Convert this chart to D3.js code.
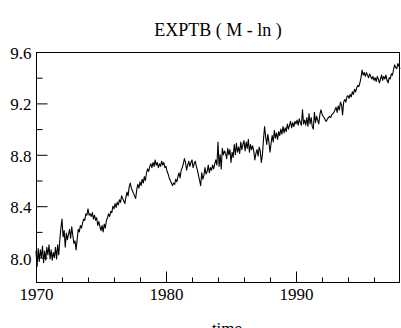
<!DOCTYPE html>
<html>
<head>
<meta charset="utf-8">
<script src="https://cdn.jsdelivr.net/npm/d3@7"></script>
<style>
  html, body { margin: 0; padding: 0; background: #fff; }
  svg { display: block; }
  text { font-family: "Liberation Serif", "Times New Roman", serif; fill: #000; }
</style>
</head>
<body>
<svg id="chart" width="401" height="328"></svg>
<script>
// ---- data (monthly, starting Jan 1970) ----
const startYear = 1970;
const chartTitle = "EXPTB ( M - ln )";
const xLabel = "time";
const values = [
  // 1970
  8.05, 7.93, 8.07, 7.97, 8.06, 8.00, 8.09, 7.96, 8.05, 7.98, 8.08, 8.02,
  // 1971
  8.10, 7.99, 8.06, 7.98, 8.04, 8.00, 8.08, 7.99, 8.10, 8.02, 8.14, 8.23,
  // 1972
  8.30, 8.16, 8.21, 8.08, 8.19, 8.14, 8.18, 8.22, 8.15, 8.24, 8.17, 8.11,
  // 1973
  8.13, 8.06, 8.14, 8.22, 8.20, 8.25, 8.23, 8.27, 8.30, 8.29, 8.34, 8.33,
  // 1974
  8.38, 8.33, 8.34, 8.32, 8.35, 8.30, 8.33, 8.29, 8.31, 8.25, 8.28, 8.24,
  // 1975
  8.21, 8.25, 8.20, 8.26, 8.23, 8.29, 8.31, 8.34, 8.32, 8.36, 8.35, 8.40,
  // 1976
  8.38, 8.42, 8.39, 8.43, 8.41, 8.45, 8.43, 8.48, 8.46, 8.44, 8.42, 8.47,
  // 1977
  8.51, 8.48, 8.55, 8.58, 8.54, 8.52, 8.50, 8.48, 8.46, 8.53, 8.57, 8.54,
  // 1978
  8.59, 8.56, 8.61, 8.58, 8.63, 8.60, 8.66, 8.69, 8.67, 8.71, 8.73, 8.70,
  // 1979
  8.74, 8.71, 8.76, 8.72, 8.74, 8.70, 8.73, 8.71, 8.75, 8.72, 8.74, 8.70,
  // 1980
  8.71, 8.67, 8.65, 8.62, 8.60, 8.58, 8.56, 8.58, 8.57, 8.61, 8.59, 8.63,
  // 1981
  8.66, 8.62, 8.68, 8.70, 8.73, 8.77, 8.74, 8.68, 8.72, 8.75, 8.71, 8.74,
  // 1982
  8.76, 8.70, 8.73, 8.75, 8.71, 8.68, 8.64, 8.60, 8.56, 8.66, 8.61, 8.64,
  // 1983
  8.70, 8.65, 8.67, 8.72, 8.66, 8.70, 8.68, 8.72, 8.69, 8.73, 8.76, 8.72,
  // 1984
  8.90, 8.71, 8.80, 8.69, 8.85, 8.80, 8.83, 8.81, 8.77, 8.85, 8.80, 8.84,
  // 1985
  8.74, 8.82, 8.78, 8.88, 8.80, 8.89, 8.82, 8.86, 8.81, 8.90, 8.84, 8.88,
  // 1986
  8.91, 8.83, 8.90, 8.85, 8.92, 8.82, 8.88, 8.84, 8.87, 8.83, 8.76, 8.81,
  // 1987
  8.84, 8.79, 8.86, 8.83, 8.74, 8.80, 8.92, 9.02, 8.94, 8.88, 8.96, 8.90,
  // 1988
  8.82, 8.89, 8.95, 8.90, 8.99, 8.93, 8.97, 8.92, 8.98, 8.95, 9.00, 8.96,
  // 1989
  9.02, 8.97, 9.01, 8.98, 9.04, 9.00, 9.03, 9.06, 9.01, 9.05, 9.02, 9.06,
  // 1990
  9.04, 9.07, 9.03, 9.08, 9.05, 9.03, 9.15, 9.04, 9.07, 9.03, 9.09, 9.02,
  // 1991
  9.12, 9.04, 9.09, 9.02, 9.00, 9.13, 9.05, 9.10, 9.07, 9.04, 9.11, 9.15,
  // 1992
  9.12, 9.10, 9.09, 9.07, 9.06, 9.08, 9.09, 9.10, 9.09, 9.11, 9.12, 9.13,
  // 1993
  9.15, 9.17, 9.13, 9.18, 9.15, 9.21, 9.19, 9.11, 9.21, 9.23, 9.21, 9.25,
  // 1994
  9.26, 9.24, 9.27, 9.25, 9.29, 9.27, 9.31, 9.29, 9.32, 9.34, 9.33, 9.36,
  // 1995
  9.40, 9.46, 9.42, 9.44, 9.41, 9.44, 9.42, 9.40, 9.43, 9.41, 9.39, 9.41,
  // 1996
  9.38, 9.40, 9.37, 9.41, 9.39, 9.36, 9.39, 9.42, 9.38, 9.41, 9.39, 9.42,
  // 1997
  9.38, 9.36, 9.40, 9.39, 9.43, 9.42, 9.46, 9.50, 9.48, 9.47, 9.51, 9.49,
  // 1998
  9.47
];
const xMajorTicks = [1970, 1980, 1990];
const xMinorTicks = [1972, 1974, 1976, 1978, 1982, 1984, 1986, 1988, 1992, 1994, 1996];
const yMajorTicks = [8.0, 8.4, 8.8, 9.2, 9.6];
const yMinorTicks = [8.2, 8.6, 9.0, 9.4];

// ---- layout ----
const svg = d3.select("#chart");
const mLeft = 36, mRight = 400, mTop = 52, mBottom = 282;

const x = d3.scaleLinear().domain([1970, 1998]).range([mLeft, mRight]);
const y = d3.scaleLinear().domain([7.81, 9.6]).range([mBottom, mTop]);

const data = values.map((v, i) => ({ t: startYear + i / 12, v }));

// line
svg.append("path")
  .datum(data)
  .attr("fill", "none")
  .attr("stroke", "#000")
  .attr("stroke-width", 1.1)
  .attr("stroke-linejoin", "round")
  .attr("d", d3.line().x(d => x(d.t)).y(d => y(d.v)));

// frame
svg.append("rect")
  .attr("x", mLeft + 0.5).attr("y", mTop + 0.5)
  .attr("width", mRight - mLeft - 1).attr("height", mBottom - mTop)
  .attr("fill", "none").attr("stroke", "#000").attr("stroke-width", 1);

// x axis (ticks inward)
const xAxisMajor = d3.axisBottom(x).tickValues(xMajorTicks).tickSize(-11).tickFormat(d3.format("d"));
const xAxisMinor = d3.axisBottom(x).tickValues(xMinorTicks).tickSize(-5).tickFormat("");
const gxMinor = svg.append("g").attr("transform", `translate(0,${mBottom + 0.5})`).call(xAxisMinor);
const gxMajor = svg.append("g").attr("transform", `translate(0,${mBottom + 0.5})`).call(xAxisMajor);
[gxMinor, gxMajor].forEach(g => {
  g.attr("font-family", null);
  g.select(".domain").remove();
  g.selectAll("line").attr("stroke", "#000");
  g.selectAll("text").style("font-family", "'Liberation Serif', serif").style("font-size", "17px").attr("fill", "#000");
});
gxMajor.selectAll("text").attr("y", 5).attr("dy", "0.71em");

// y axis (ticks inward)
const yAxisMajor = d3.axisLeft(y).tickValues(yMajorTicks).tickSize(-11).tickFormat(d3.format(".1f"));
const yAxisMinor = d3.axisLeft(y).tickValues(yMinorTicks).tickSize(-6).tickFormat("");
const gyMinor = svg.append("g").attr("transform", `translate(${mLeft + 0.5},0)`).call(yAxisMinor);
const gyMajor = svg.append("g").attr("transform", `translate(${mLeft + 0.5},0)`).call(yAxisMajor);
[gyMinor, gyMajor].forEach(g => {
  g.attr("font-family", null);
  g.select(".domain").remove();
  g.selectAll("line").attr("stroke", "#000");
  g.selectAll("text").style("font-family", "'Liberation Serif', serif").style("font-size", "17px").attr("fill", "#000").attr("dy", "0.38em");
});
gyMajor.selectAll("text").attr("x", -5);

// title
svg.append("text")
  .attr("x", 218).attr("y", 36)
  .attr("text-anchor", "middle")
  .style("font-size", "18px")
  .text(chartTitle);

// x label
svg.append("text")
  .attr("x", 227).attr("y", 334)
  .attr("text-anchor", "middle")
  .style("font-size", "17px")
  .text(xLabel);
</script>
</body>
</html>
